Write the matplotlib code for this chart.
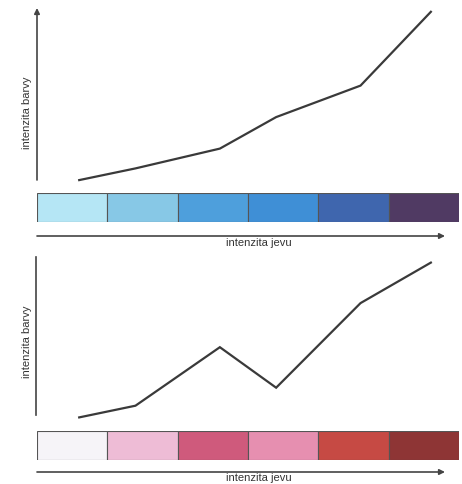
import matplotlib
matplotlib.use("Agg")
import matplotlib.pyplot as plt

# block positions along "intenzita jevu" (block i spans i..i+1)
x_pos = [0.6, 1.4, 2.6, 3.4, 4.6, 5.6]
# colour intensity (0-100) for each block
top_vals = [5.5, 12, 23, 40.5, 58, 99]
bottom_vals = [7, 13.5, 46, 23.5, 70.5, 93]

top_colors = ['#b5e6f5', '#87c8e6', '#4e9fdc', '#3f8fd6', '#3f66ae', '#503a63']
bottom_colors = ['#f6f4f8', '#eebcd6', '#cf5a7c', '#e68fb0', '#c64a44', '#8e3535']

xlabel = "intenzita jevu"
ylabel = "intenzita barvy"

W, H = 462, 484
fig = plt.figure(figsize=(W / 100, H / 100), dpi=100)
fig.patch.set_facecolor('white')

def px_axes(x0, y0, x1, y1):
    # pixel box (top-left origin) -> figure axes
    return fig.add_axes([x0 / W, 1 - y1 / H, (x1 - x0) / W, (y1 - y0) / H])

# overlay for the hand-drawn axis arrows and labels
ov = fig.add_axes([0, 0, 1, 1])
ov.set_xlim(0, W)
ov.set_ylim(H, 0)
ov.axis('off')

font = dict(family=['Liberation Sans', 'DejaVu Sans'], fontsize=8, color='#333333')

def panel(top, vals, colors, arrow_up, bar_y, arr_y, txt_y, lab_y):
    # line
    ax = px_axes(37, top, 459, top + 180)
    ax.plot(x_pos, vals, color='#3a3a3a', lw=1.6, solid_joinstyle='miter')
    ax.set_xlim(0, 6)
    ax.set_ylim(0, 100)
    ax.axis('off')
    # colour bar
    bx = px_axes(37, bar_y, 459, bar_y + 29)
    bx.bar(range(6), [1] * 6, width=1, align='edge', color=colors,
           edgecolor='#555555', linewidth=0.8)
    bx.set_xlim(0, 6)
    bx.set_ylim(0, 1)
    bx.axis('off')
    # y axis
    if arrow_up:
        ov.annotate('', xy=(37, top - 2), xytext=(37, top + 170),
                    arrowprops=dict(arrowstyle='-|>', color='#444444', lw=1.2,
                                    mutation_scale=8, shrinkA=0, shrinkB=0))
    else:
        ov.plot([36, 36], [top + 7, top + 165], color='#444444', lw=1.2)
    ov.text(27, lab_y, ylabel, rotation=90, ha='center', va='center', **font)
    # x axis
    ov.annotate('', xy=(445, arr_y), xytext=(37, arr_y),
                arrowprops=dict(arrowstyle='-|>', color='#444444', lw=1.2,
                                mutation_scale=8, shrinkA=0, shrinkB=0))
    ov.text(259, txt_y, xlabel, ha='center', va='center', **font)

panel(10, top_vals, top_colors, True, 193, 236, 243, 113)
panel(250, bottom_vals, bottom_colors, False, 431, 472, 478, 342)

fig.savefig('out.png', dpi=100)
